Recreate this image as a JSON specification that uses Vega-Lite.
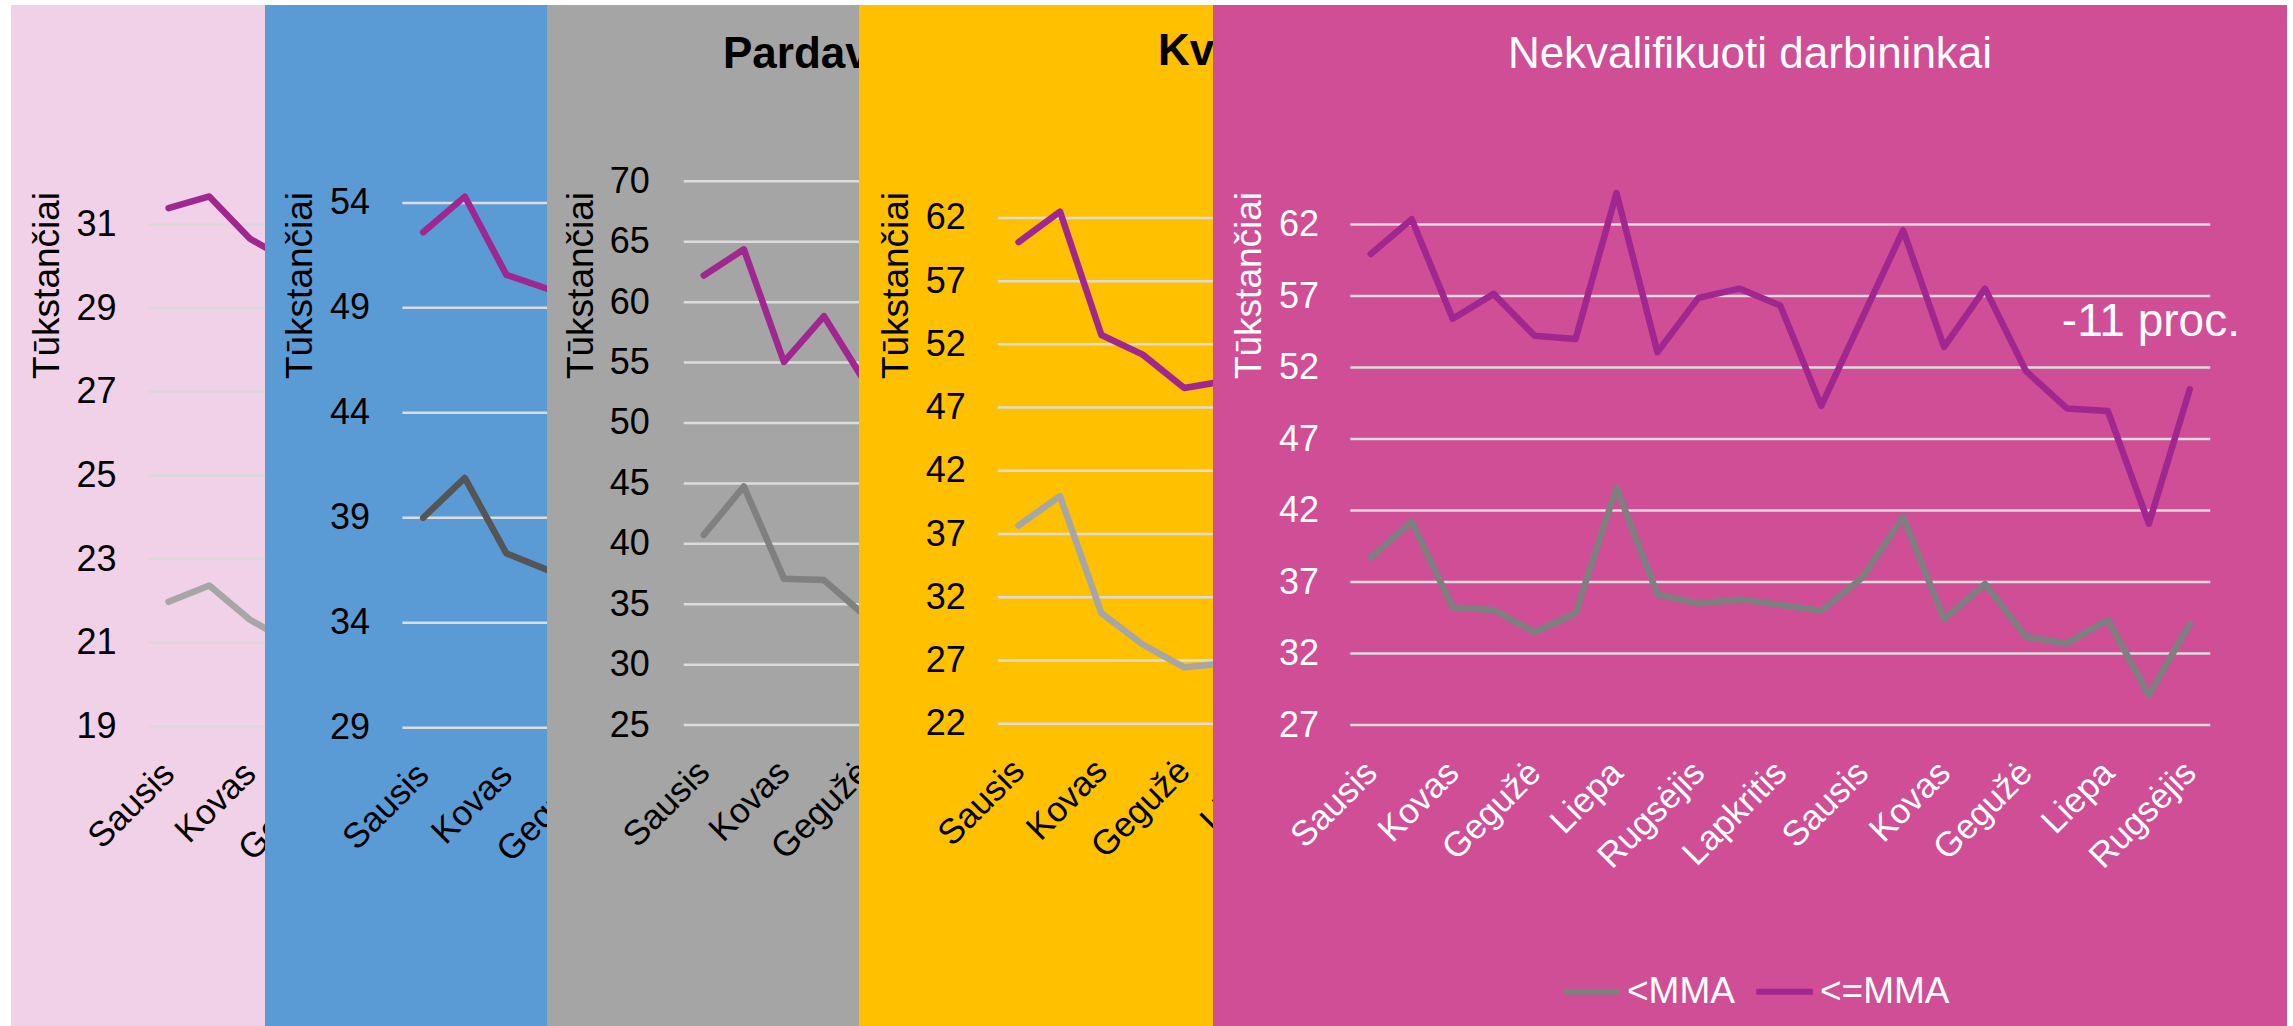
{
  "$schema": "https://vega.github.io/schema/vega-lite/v6.json",
  "background": "white",
  "padding": {"left": 11, "top": 5, "right": 6, "bottom": 0},
  "spacing": 0,
  "bounds": "flush",
  "config": {
    "font": "Liberation Sans",
    "view": {"stroke": null},
    "axis": {"labelFont": "Liberation Sans", "titleFont": "Liberation Sans"},
    "legend": {"labelFont": "Liberation Sans"},
    "title": {"font": "Liberation Sans"}
  },
  "resolve": {"scale": {"color": "independent", "x": "independent", "y": "independent"}, "legend": {"color": "independent"}},
  "datasets": {
    "g1": [{"t": 19}, {"t": 21}, {"t": 23}, {"t": 25}, {"t": 27}, {"t": 29}, {"t": 31}],
    "g2": [{"t": 29}, {"t": 34}, {"t": 39}, {"t": 44}, {"t": 49}, {"t": 54}],
    "g3": [{"t": 25}, {"t": 30}, {"t": 35}, {"t": 40}, {"t": 45}, {"t": 50}, {"t": 55}, {"t": 60}, {"t": 65}, {"t": 70}],
    "g4": [{"t": 22}, {"t": 27}, {"t": 32}, {"t": 37}, {"t": 42}, {"t": 47}, {"t": 52}, {"t": 57}, {"t": 62}],
    "g5": [{"t": 27}, {"t": 32}, {"t": 37}, {"t": 42}, {"t": 47}, {"t": 52}, {"t": 57}, {"t": 62}],
    "m3": [{"i": 0, "m": "Sausis"}, {"i": 2, "m": "Kovas"}, {"i": 4, "m": "Gegužė"}],
    "m4": [{"i": 0, "m": "Sausis"}, {"i": 2, "m": "Kovas"}, {"i": 4, "m": "Gegužė"}, {"i": 6, "m": "Liepa"}],
    "d1": [
      {"i": 0, "s": "<MMA", "v": 21.98}, {"i": 1, "s": "<MMA", "v": 22.37}, {"i": 2, "s": "<MMA", "v": 21.55}, {"i": 3, "s": "<MMA", "v": 21.0},
      {"i": 0, "s": "<=MMA", "v": 31.39}, {"i": 1, "s": "<=MMA", "v": 31.67}, {"i": 2, "s": "<=MMA", "v": 30.66}, {"i": 3, "s": "<=MMA", "v": 30.1}
    ],
    "d2": [
      {"i": 0, "s": "<MMA", "v": 39.0}, {"i": 1, "s": "<MMA", "v": 40.9}, {"i": 2, "s": "<MMA", "v": 37.3}, {"i": 3, "s": "<MMA", "v": 36.5},
      {"i": 0, "s": "<=MMA", "v": 52.6}, {"i": 1, "s": "<=MMA", "v": 54.3}, {"i": 2, "s": "<=MMA", "v": 50.57}, {"i": 3, "s": "<=MMA", "v": 49.9}
    ],
    "d3": [
      {"i": 0, "s": "<MMA", "v": 40.74}, {"i": 1, "s": "<MMA", "v": 44.75}, {"i": 2, "s": "<MMA", "v": 37.12}, {"i": 3, "s": "<MMA", "v": 37.0}, {"i": 4, "s": "<MMA", "v": 34.1},
      {"i": 0, "s": "<=MMA", "v": 62.2}, {"i": 1, "s": "<=MMA", "v": 64.37}, {"i": 2, "s": "<=MMA", "v": 55.05}, {"i": 3, "s": "<=MMA", "v": 58.84}, {"i": 4, "s": "<=MMA", "v": 53.5}
    ],
    "d4": [
      {"i": 0, "s": "<MMA", "v": 37.68}, {"i": 1, "s": "<MMA", "v": 40.0}, {"i": 2, "s": "<MMA", "v": 30.75}, {"i": 3, "s": "<MMA", "v": 28.27}, {"i": 4, "s": "<MMA", "v": 26.46}, {"i": 5, "s": "<MMA", "v": 26.8},
      {"i": 0, "s": "<=MMA", "v": 60.09}, {"i": 1, "s": "<=MMA", "v": 62.5}, {"i": 2, "s": "<=MMA", "v": 52.74}, {"i": 3, "s": "<=MMA", "v": 51.19}, {"i": 4, "s": "<=MMA", "v": 48.55}, {"i": 5, "s": "<=MMA", "v": 49.1}
    ],
    "d5": [
      {"i": 0, "s": "<MMA", "v": 38.71}, {"i": 1, "s": "<MMA", "v": 41.22}, {"i": 2, "s": "<MMA", "v": 35.23}, {"i": 3, "s": "<MMA", "v": 35.05},
      {"i": 4, "s": "<MMA", "v": 33.49}, {"i": 5, "s": "<MMA", "v": 34.82}, {"i": 6, "s": "<MMA", "v": 43.6}, {"i": 7, "s": "<MMA", "v": 36.15},
      {"i": 8, "s": "<MMA", "v": 35.5}, {"i": 9, "s": "<MMA", "v": 35.78}, {"i": 10, "s": "<MMA", "v": 35.41}, {"i": 11, "s": "<MMA", "v": 35.0},
      {"i": 12, "s": "<MMA", "v": 37.3}, {"i": 13, "s": "<MMA", "v": 41.55}, {"i": 14, "s": "<MMA", "v": 34.41}, {"i": 15, "s": "<MMA", "v": 36.87},
      {"i": 16, "s": "<MMA", "v": 33.17}, {"i": 17, "s": "<MMA", "v": 32.71}, {"i": 18, "s": "<MMA", "v": 34.36}, {"i": 19, "s": "<MMA", "v": 29.1},
      {"i": 20, "s": "<MMA", "v": 34.08},
      {"i": 0, "s": "<=MMA", "v": 59.94}, {"i": 1, "s": "<=MMA", "v": 62.37}, {"i": 2, "s": "<=MMA", "v": 55.41}, {"i": 3, "s": "<=MMA", "v": 57.15},
      {"i": 4, "s": "<=MMA", "v": 54.22}, {"i": 5, "s": "<=MMA", "v": 53.99}, {"i": 6, "s": "<=MMA", "v": 64.2}, {"i": 7, "s": "<=MMA", "v": 53.08},
      {"i": 8, "s": "<=MMA", "v": 56.87}, {"i": 9, "s": "<=MMA", "v": 57.52}, {"i": 10, "s": "<=MMA", "v": 56.33}, {"i": 11, "s": "<=MMA", "v": 49.32},
      {"i": 12, "s": "<=MMA", "v": 55.45}, {"i": 13, "s": "<=MMA", "v": 61.59}, {"i": 14, "s": "<=MMA", "v": 53.44}, {"i": 15, "s": "<=MMA", "v": 57.52},
      {"i": 16, "s": "<=MMA", "v": 51.75}, {"i": 17, "s": "<=MMA", "v": 49.14}, {"i": 18, "s": "<=MMA", "v": 48.96}, {"i": 19, "s": "<=MMA", "v": 41.08},
      {"i": 20, "s": "<=MMA", "v": 50.47}
    ]
  },
  "hconcat": [
    {
      "width": 254, "height": 1021,
      "view": {"fill": "#f0d1e7", "stroke": null},
      "layer": [
        {"data": {"name": "g1"}, "mark": {"type": "rule", "clip": true, "color": "#d9d9d9", "strokeWidth": 2.5},
         "encoding": {"x": {"datum": -0.5, "type": "quantitative", "axis": null}, "x2": {"datum": 40}, "y": {"field": "t", "type": "quantitative"}}},
        {"data": {"name": "d1"}, "mark": {"type": "line", "clip": true, "strokeWidth": 6.5, "strokeCap": "round", "strokeJoin": "round"},
         "encoding": {
           "x": {"field": "i", "type": "quantitative", "scale": {"domain": [-3.872, 2.369], "nice": false, "zero": false}, "axis": null},
           "y": {"field": "v", "type": "quantitative", "scale": {"domain": [11.837, 36.248], "nice": false, "zero": false},
             "axis": {"values": [19, 21, 23, 25, 27, 29, 31], "orient": "left", "offset": -105, "domain": false, "ticks": false, "tickSize": 0, "grid": false, "labelPadding": 0, "labelFontSize": 36, "labelColor": "black", "labelOverlap": false, "title": "Tūkstančiai", "titleFontSize": 37, "titleFontWeight": "normal", "titleColor": "black", "titleAngle": -90, "titleAlign": "center", "titleBaseline": "middle", "titleX": -68.7, "titleY": 280}},
           "color": {"field": "s", "type": "nominal", "scale": {"domain": ["<MMA", "<=MMA"], "range": ["#a6a6a6", "#a0278f"]}, "legend": null}
         }},
        {"data": {"name": "m3"}, "mark": {"type": "text", "angle": 315, "align": "right", "baseline": "middle", "fontSize": 35, "color": "black"},
         "encoding": {"x": {"field": "i", "type": "quantitative", "axis": null}, "y": {"datum": 18.005, "type": "quantitative"}, "text": {"field": "m"}}}
      ]
    },
    {
      "width": 282, "height": 1021,
      "view": {"fill": "#5b9bd5", "stroke": null},
      "layer": [
        {"data": {"name": "g2"}, "mark": {"type": "rule", "clip": true, "color": "#dcdcdc", "strokeWidth": 2.5},
         "encoding": {"x": {"datum": -0.5, "type": "quantitative", "axis": null}, "x2": {"datum": 40}, "y": {"field": "t", "type": "quantitative"}}},
        {"data": {"name": "d2"}, "mark": {"type": "line", "clip": true, "strokeWidth": 6.5, "strokeCap": "round", "strokeJoin": "round"},
         "encoding": {
           "x": {"field": "i", "type": "quantitative", "scale": {"domain": [-3.803, 2.976], "nice": false, "zero": false}, "axis": null},
           "y": {"field": "v", "type": "quantitative", "scale": {"domain": [14.79, 63.427], "nice": false, "zero": false},
             "axis": {"values": [29, 34, 39, 44, 49, 54], "orient": "left", "offset": -104.6, "domain": false, "ticks": false, "tickSize": 0, "grid": false, "labelPadding": 0, "labelFontSize": 36, "labelColor": "black", "labelOverlap": false, "title": "Tūkstančiai", "titleFontSize": 37, "titleFontWeight": "normal", "titleColor": "black", "titleAngle": -90, "titleAlign": "center", "titleBaseline": "middle", "titleX": -69.6, "titleY": 280}},
           "color": {"field": "s", "type": "nominal", "scale": {"domain": ["<MMA", "<=MMA"], "range": ["#555555", "#a0278f"]}, "legend": null}
         }},
        {"data": {"name": "m3"}, "mark": {"type": "text", "angle": 315, "align": "right", "baseline": "middle", "fontSize": 35, "color": "black"},
         "encoding": {"x": {"field": "i", "type": "quantitative", "axis": null}, "y": {"datum": 27.018, "type": "quantitative"}, "text": {"field": "m"}}}
      ]
    },
    {
      "width": 312, "height": 1021,
      "view": {"fill": "#a5a5a5", "stroke": null},
      "title": {"text": "Pardavėjai", "anchor": "start", "frame": "group", "dx": 176, "offset": -71.7, "fontSize": 44, "fontWeight": "bold", "color": "black"},
      "layer": [
        {"data": {"name": "g3"}, "mark": {"type": "rule", "clip": true, "color": "#dcdcdc", "strokeWidth": 2.5},
         "encoding": {"x": {"datum": -0.5, "type": "quantitative", "axis": null}, "x2": {"datum": 40}, "y": {"field": "t", "type": "quantitative"}}},
        {"data": {"name": "d3"}, "mark": {"type": "line", "clip": true, "strokeWidth": 6.5, "strokeCap": "round", "strokeJoin": "round"},
         "encoding": {
           "x": {"field": "i", "type": "quantitative", "scale": {"domain": [-3.913, 3.873], "nice": false, "zero": false}, "axis": null},
           "y": {"field": "v", "type": "quantitative", "scale": {"domain": [0.10, 84.59], "nice": false, "zero": false},
             "axis": {"values": [25, 30, 35, 40, 45, 50, 55, 60, 65, 70], "orient": "left", "offset": -102.4, "domain": false, "ticks": false, "tickSize": 0, "grid": false, "labelPadding": 0, "labelFontSize": 36, "labelColor": "black", "labelOverlap": false, "title": "Tūkstančiai", "titleFontSize": 37, "titleFontWeight": "normal", "titleColor": "black", "titleAngle": -90, "titleAlign": "center", "titleBaseline": "middle", "titleX": -68.1, "titleY": 280}},
           "color": {"field": "s", "type": "nominal", "scale": {"domain": ["<MMA", "<=MMA"], "range": ["#808080", "#a0278f"]}, "legend": null}
         }},
        {"data": {"name": "m3"}, "mark": {"type": "text", "angle": 315, "align": "right", "baseline": "middle", "fontSize": 35, "color": "black"},
         "encoding": {"x": {"field": "i", "type": "quantitative", "axis": null}, "y": {"datum": 21.557, "type": "quantitative"}, "text": {"field": "m"}}}
      ]
    },
    {
      "width": 354, "height": 1021,
      "view": {"fill": "#ffc000", "stroke": null},
      "title": {"text": "Kvalifikuoti", "anchor": "start", "frame": "group", "dx": 299, "offset": -69, "fontSize": 44, "fontWeight": "bold", "color": "black"},
      "layer": [
        {"data": {"name": "g4"}, "mark": {"type": "rule", "clip": true, "color": "#dcdcdc", "strokeWidth": 2.5},
         "encoding": {"x": {"datum": -0.5, "type": "quantitative", "axis": null}, "x2": {"datum": 40}, "y": {"field": "t", "type": "quantitative"}}},
        {"data": {"name": "d4"}, "mark": {"type": "line", "clip": true, "strokeWidth": 6.5, "strokeCap": "round", "strokeJoin": "round"},
         "encoding": {
           "x": {"field": "i", "type": "quantitative", "scale": {"domain": [-3.855, 4.696], "nice": false, "zero": false}, "axis": null},
           "y": {"field": "v", "type": "quantitative", "scale": {"domain": [-1.894, 78.833], "nice": false, "zero": false},
             "axis": {"values": [22, 27, 32, 37, 42, 47, 52, 57, 62], "orient": "left", "offset": -106.4, "domain": false, "ticks": false, "tickSize": 0, "grid": false, "labelPadding": 0, "labelFontSize": 36, "labelColor": "black", "labelOverlap": false, "title": "Tūkstančiai", "titleFontSize": 37, "titleFontWeight": "normal", "titleColor": "black", "titleAngle": -90, "titleAlign": "center", "titleBaseline": "middle", "titleX": -69.4, "titleY": 280}},
           "color": {"field": "s", "type": "nominal", "scale": {"domain": ["<MMA", "<=MMA"], "range": ["#a6a6a6", "#a0278f"]}, "legend": null}
         }},
        {"data": {"name": "m4"}, "mark": {"type": "text", "angle": 315, "align": "right", "baseline": "middle", "fontSize": 35, "color": "black"},
         "encoding": {"x": {"field": "i", "type": "quantitative", "axis": null}, "y": {"datum": 18.711, "type": "quantitative"}, "text": {"field": "m"}}}
      ]
    },
    {
      "width": 1074, "height": 1021,
      "view": {"fill": "#d04e96", "stroke": null},
      "title": {"text": "Nekvalifikuoti darbininkai", "anchor": "middle", "frame": "group", "offset": -71.7, "fontSize": 44, "fontWeight": "normal", "color": "white"},
      "layer": [
        {"data": {"name": "g5"}, "mark": {"type": "rule", "clip": true, "color": "#dcdcdc", "strokeWidth": 2.5},
         "encoding": {"x": {"datum": -0.5, "type": "quantitative"}, "x2": {"datum": 20.5}, "y": {"field": "t", "type": "quantitative"}}},
        {"data": {"name": "d5"}, "mark": {"type": "line", "clip": true, "strokeWidth": 6.5, "strokeCap": "round", "strokeJoin": "round"},
         "encoding": {
           "x": {"field": "i", "type": "quantitative", "scale": {"domain": [-3.853, 22.374], "nice": false, "zero": false},
             "axis": {"values": [0, 2, 4, 6, 8, 10, 12, 14, 16, 18, 20], "labelExpr": "['Sausis','Vasaris','Kovas','Balandis','Gegužė','Birželis','Liepa','Rugpjūtis','Rugsėjis','Spalis','Lapkritis','Gruodis'][datum.value % 12]", "title": null, "orient": "bottom", "offset": -300.9, "domain": false, "ticks": false, "tickSize": 0, "grid": false, "labelAngle": -45, "labelAlign": "right", "labelBaseline": "middle", "labelPadding": 41.6, "labelFontSize": 35, "labelColor": "white", "labelOverlap": false, "labelBound": false, "labelFlush": false}},
           "y": {"field": "v", "type": "quantitative", "scale": {"domain": [5.963, 77.347], "nice": false, "zero": false},
             "axis": {"values": [27, 32, 37, 42, 47, 52, 57, 62], "orient": "left", "offset": -105.5, "domain": false, "ticks": false, "tickSize": 0, "grid": false, "labelPadding": 0, "labelFontSize": 36, "labelColor": "white", "labelOverlap": false, "title": "Tūkstančiai", "titleFontSize": 37, "titleFontWeight": "normal", "titleColor": "white", "titleAngle": -90, "titleAlign": "center", "titleBaseline": "middle", "titleX": -68.6, "titleY": 280}},
           "color": {"field": "s", "type": "nominal", "scale": {"domain": ["<MMA", "<=MMA"], "range": ["#7f7f7f", "#a0278f"]},
             "legend": {"orient": "none", "legendX": 347, "legendY": 955, "direction": "horizontal", "title": null, "symbolType": "stroke", "symbolSize": 3200, "symbolStrokeWidth": 6, "labelFontSize": 37, "labelColor": "white", "columnPadding": 9, "labelOffset": 4, "padding": 0}}
         }},
        {"data": {"values": [{"label": "-11 proc."}]}, "mark": {"type": "text", "fontSize": 46, "color": "white", "align": "center", "baseline": "middle"},
         "encoding": {"x": {"datum": 19.05, "type": "quantitative"}, "y": {"datum": 55.16, "type": "quantitative"}, "text": {"field": "label"}}}
      ]
    }
  ]
}
